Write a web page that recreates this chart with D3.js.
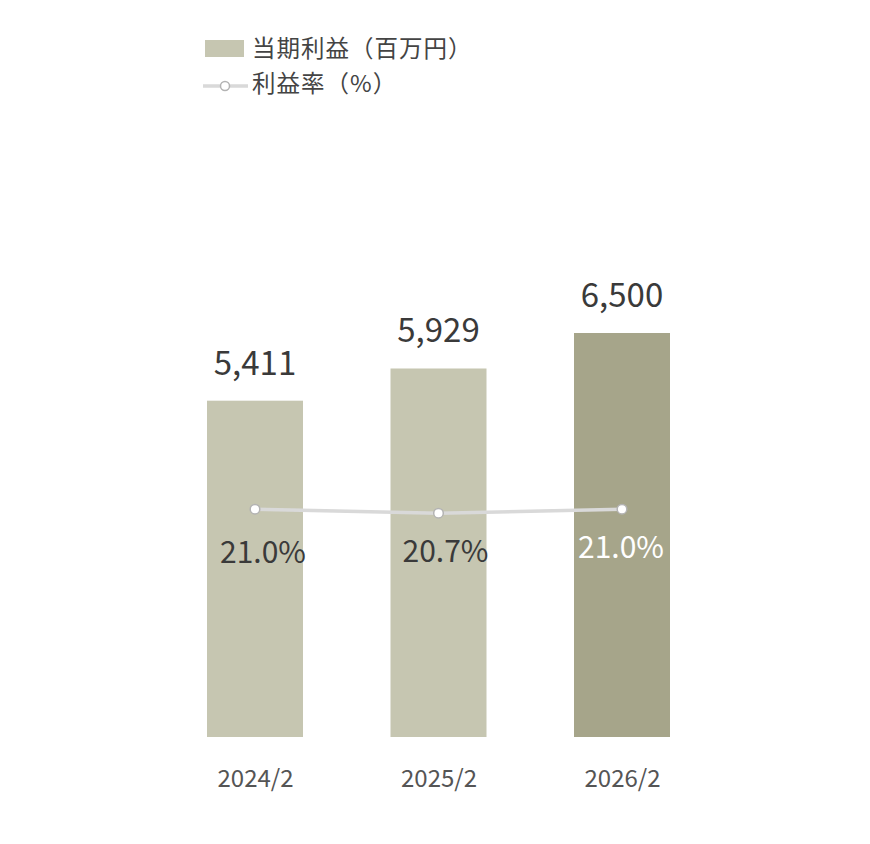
<!DOCTYPE html>
<html><head><meta charset="utf-8">
<script src="https://cdn.jsdelivr.net/npm/d3@7"></script>
<style>
html,body{margin:0;padding:0;background:#fff;}
svg{display:block;font-family:"Noto Sans CJK JP","Noto Sans",sans-serif;}
</style></head>
<body><svg id="c" width="870" height="844"></svg>
<script>
const categories = ["2024/2", "2025/2", "2026/2"];
const profit = [5411, 5929, 6500];
const margin = [21.0, 20.7, 21.0];
const legendLabels = ["当期利益（百万円）", "利益率（%）"];

const svg = d3.select("#c");
const barLight = "#c6c6b1", barDark = "#a6a58a";

const xp = d3.scalePoint().domain(categories).range([255, 622]);
const bw = 96;
const y = d3.scaleLinear().domain([0, 6500]).range([737, 333]);
const y2 = d3.scaleLinear().domain([15, 25]).range([589, 456]);

// bars
svg.append("g").selectAll("rect").data(categories).join("rect")
  .attr("x", d => xp(d) - bw/2)
  .attr("y", (d,i) => y(profit[i]))
  .attr("width", bw)
  .attr("height", (d,i) => y(0) - y(profit[i]))
  .attr("fill", (d,i) => i === categories.length-1 ? barDark : barLight);

// value labels
svg.append("g").selectAll("text").data(categories).join("text")
  .attr("x", d => xp(d))
  .attr("y", (d,i) => y(profit[i]) - 26)
  .attr("text-anchor", "middle")
  .attr("font-size", 33)
  .attr("fill", "#3a3a3a")
  .text((d,i) => d3.format(",")(profit[i]));

// line
const line = d3.line().x(d => xp(d.c)).y(d => y2(d.v));
const pts = categories.map((c,i) => ({c, v: margin[i]}));
svg.append("path").datum(pts).attr("d", line)
  .attr("fill", "none").attr("stroke", "#d9d9d9").attr("stroke-width", 3.5);
svg.append("g").selectAll("circle").data(pts).join("circle")
  .attr("cx", d => xp(d.c)).attr("cy", d => y2(d.v)).attr("r", 4.8)
  .attr("fill", "#fff").attr("stroke", "#b3b3b3").attr("stroke-width", 1.5);

// percent labels
const pdx = [8, 7, -1];
const pdy = [54, 49, 49];
svg.append("g").selectAll("text").data(pts).join("text")
  .attr("x", (d,i) => xp(d.c) + pdx[i])
  .attr("y", (d,i) => y2(d.v) + pdy[i])
  .attr("text-anchor", "middle")
  .attr("font-size", 30)
  .attr("fill", (d,i) => i === pts.length-1 ? "#ffffff" : "#3a3a3a")
  .text(d => d.v.toFixed(1) + "%");

// x axis labels
const xAxis = d3.axisBottom(xp).tickSize(0).tickPadding(0);
const gx = svg.append("g").attr("transform", "translate(0,770)").call(xAxis);
gx.select(".domain").remove();
gx.selectAll("text").attr("font-size", 24).attr("fill", "#555")
  .attr("font-family", '"Noto Sans CJK JP","Noto Sans",sans-serif');

// legend
const lg = svg.append("g");
lg.append("rect").attr("x", 205).attr("y", 40).attr("width", 39).attr("height", 17).attr("fill", barLight);
lg.append("text").attr("x", 252).attr("y", 57).attr("font-size", 23.5).attr("letter-spacing", 1).attr("fill", "#444").text(legendLabels[0]);
lg.append("line").attr("x1", 203).attr("x2", 248).attr("y1", 86).attr("y2", 86)
  .attr("stroke", "#d9d9d9").attr("stroke-width", 3.5);
lg.append("circle").attr("cx", 225).attr("cy", 86).attr("r", 4.5)
  .attr("fill", "#fff").attr("stroke", "#b3b3b3").attr("stroke-width", 1.5);
lg.append("text").attr("x", 252).attr("y", 92).attr("font-size", 23.5).attr("letter-spacing", 1).attr("fill", "#444").text(legendLabels[1]);
</script></body></html>
